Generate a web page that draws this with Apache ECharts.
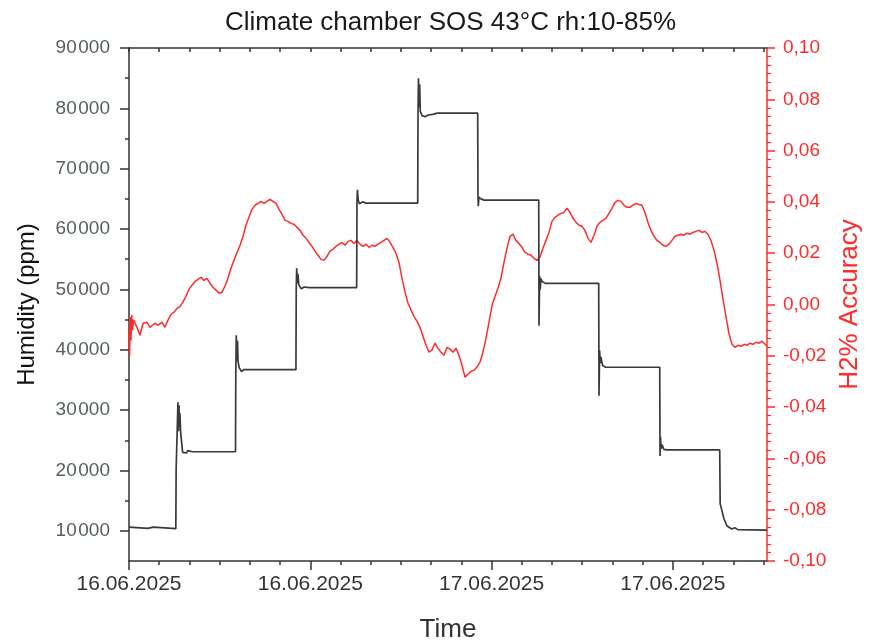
<!DOCTYPE html>
<html>
<head>
<meta charset="utf-8">
<title>Climate chamber SOS 43°C rh:10-85%</title>
<script src="https://cdn.jsdelivr.net/npm/echarts@6/dist/echarts.min.js"></script>
<style>
  html, body { margin: 0; padding: 0; background: #ffffff; }
  #chart { width: 869px; height: 642px; }
</style>
</head>
<body>
<div id="chart"></div>
<script>
// Time axis in hours since 16.06.2025 00:00
var majorHours = [0, 12, 24, 36];
var minorHours = [0, 2, 4, 6, 8, 10, 12, 14, 16, 18, 20, 22, 24, 26, 28, 30, 32, 34, 36, 38, 40, 42];
var dayLabels = ['16.06.2025', '16.06.2025', '17.06.2025', '17.06.2025'];

// Humidity axis ticks (ppm)
var majorPpm = [10000, 20000, 30000, 40000, 50000, 60000, 70000, 80000, 90000];
var minorPpm = [15000, 25000, 35000, 45000, 55000, 65000, 75000, 85000];

// Humidity (ppm) recorded in the chamber
var humidityHours = [
  0.00, 0.10, 1.25, 1.30, 1.60, 1.65, 3.10,
  3.12, 3.22, 3.24, 3.28, 3.31, 3.34, 3.37, 3.42, 3.50, 3.55, 3.65, 3.80, 3.90, 4.00, 4.20, 4.25, 4.35, 4.50, 4.55, 4.65, 5.20, 5.25, 5.35, 7.05,
  7.07, 7.10, 7.14, 7.18, 7.22, 7.30, 7.45, 7.60, 8.40, 8.45, 8.60, 11.05,
  11.07, 11.10, 11.14, 11.18, 11.24, 11.40, 11.60, 11.90, 12.40, 12.45, 12.60, 15.07,
  15.09, 15.12, 15.17, 15.25, 15.45, 15.70, 16.80, 16.85, 17.00, 19.11,
  19.13, 19.16, 19.20, 19.24, 19.28, 19.40, 19.60, 19.80, 20.10, 20.40, 21.20, 21.25, 21.40, 23.08,
  23.10, 23.12, 23.16, 23.30, 23.50, 25.00, 25.05, 25.20, 27.12,
  27.14, 27.18, 27.22, 27.26, 27.35, 27.55, 28.70, 28.75, 28.90, 31.09,
  31.11, 31.15, 31.19, 31.23, 31.35, 31.55, 32.40, 32.45, 32.60, 35.13,
  35.15, 35.18, 35.22, 35.28, 35.40, 35.60, 36.50, 36.55, 36.70, 39.10,
  39.13, 39.25, 39.38, 39.58, 39.90, 40.10, 40.30, 42.23
];
var humidityPpm = [
  10600, 10400, 10400, 10600, 10600, 10350, 10350,
  20200, 20200, 31300, 26500, 30800, 27200, 29500, 26300, 26000, 23000, 22700, 22900, 23300, 23100, 23100, 23300, 23100, 23100, 23300, 23100, 23100, 23300, 23100, 23100,
  36500, 42400, 38200, 41500, 38000, 37000, 36400, 36700, 36700, 36900, 36700, 36700,
  50200, 53500, 51000, 52600, 50800, 50100, 50400, 50300, 50300, 50600, 50300, 50300,
  64500, 66500, 64800, 64200, 64500, 64300, 64300, 64500, 64300, 64300,
  79000, 85000, 80200, 84000, 79500, 78800, 78600, 78900, 79000, 79200, 79200, 79000, 79200, 79200,
  65500, 63800, 65300, 65000, 64800, 64800, 64600, 64800, 64800,
  44000, 52200, 50000, 51800, 51300, 51000, 51000, 51200, 51000, 51000,
  32400, 39900, 37800, 38800, 37400, 37100, 37100, 37300, 37100, 37100,
  22400, 25600, 23600, 24300, 23500, 23400, 23400, 23600, 23400, 23400,
  14500, 13300, 12000, 10800, 10300, 10500, 10200, 10100
];

// H2% accuracy
var accuracyHours = [
  0.00, 0.04, 0.08, 0.13, 0.18, 0.24, 0.30, 0.40, 0.53, 0.73, 0.93, 1.19, 1.39, 1.52, 1.72, 1.92, 2.18, 2.38, 2.58, 2.78,
  2.98, 3.18, 3.38, 3.57, 3.77, 3.97, 4.17, 4.37, 4.57, 4.77, 4.96, 5.16, 5.36, 5.56, 5.76, 5.96, 6.16, 6.35, 6.55, 6.75,
  6.95, 7.15, 7.35, 7.55, 7.74, 7.94, 8.14, 8.34, 8.54, 8.74, 8.94, 9.13, 9.33, 9.53, 9.73, 9.93, 10.13, 10.33, 10.52, 10.72,
  10.92, 11.12, 11.32, 11.52, 11.72, 11.91, 12.11, 12.31, 12.51, 12.71, 12.91, 13.11, 13.30, 13.50, 13.70, 13.90, 14.10, 14.30, 14.50, 14.69,
  14.89, 15.09, 15.29, 15.49, 15.69, 15.89, 16.08, 16.28, 16.48, 16.68, 16.88, 17.08, 17.28, 17.47, 17.67, 17.87, 18.07, 18.27, 18.47, 18.67,
  18.86, 19.06, 19.26, 19.46, 19.66, 19.86, 20.05, 20.25, 20.45, 20.65, 20.85, 21.05, 21.25, 21.44, 21.64, 21.84, 22.04, 22.24, 22.44, 22.64,
  22.84, 23.03, 23.23, 23.43, 23.63, 23.83, 24.03, 24.23, 24.42, 24.62, 24.82, 25.02, 25.22, 25.42, 25.61, 25.81, 26.01, 26.21, 26.41, 26.61,
  26.81, 27.00, 27.20, 27.40, 27.60, 27.80, 28.00, 28.20, 28.40, 28.59, 28.79, 28.99, 29.19, 29.39, 29.59, 29.79, 29.98, 30.18, 30.38, 30.58,
  30.78, 30.98, 31.17, 31.37, 31.57, 31.77, 31.97, 32.17, 32.36, 32.56, 32.76, 32.96, 33.16, 33.36, 33.56, 33.75, 33.95, 34.15, 34.35, 34.55,
  34.75, 34.95, 35.14, 35.34, 35.54, 35.74, 35.94, 36.14, 36.34, 36.53, 36.73, 36.93, 37.13, 37.33, 37.53, 37.73, 37.92, 38.12, 38.32, 38.52,
  38.72, 38.92, 39.12, 39.31, 39.51, 39.71, 39.91, 40.11, 40.31, 40.51, 40.71, 40.91, 41.10, 41.30, 41.50, 41.70, 41.90, 42.10, 42.23
];
var accuracyValue = [
  -0.0100, -0.0200, -0.0050, -0.0140, -0.0040, -0.0100, -0.0060, -0.0061, -0.0089, -0.0120, -0.0073, -0.0069, -0.0089, -0.0085, -0.0073, -0.0081, -0.0069, -0.0089, -0.0061, -0.0038,
  -0.0030, -0.0015, -0.0007, 0.0009, 0.0032, 0.0059, 0.0075, 0.0090, 0.0098, 0.0106, 0.0094, 0.0102, 0.0083, 0.0067, 0.0056, 0.0044, 0.0048, 0.0071, 0.0102, 0.0141,
  0.0172, 0.0203, 0.0231, 0.0266, 0.0309, 0.0340, 0.0371, 0.0387, 0.0394, 0.0402, 0.0394, 0.0402, 0.0410, 0.0402, 0.0394, 0.0371, 0.0351, 0.0328, 0.0324, 0.0316,
  0.0313, 0.0301, 0.0289, 0.0270, 0.0258, 0.0242, 0.0227, 0.0208, 0.0192, 0.0176, 0.0172, 0.0188, 0.0208, 0.0215, 0.0227, 0.0235, 0.0242, 0.0231, 0.0246, 0.0250,
  0.0238, 0.0250, 0.0235, 0.0227, 0.0235, 0.0223, 0.0231, 0.0227, 0.0235, 0.0242, 0.0250, 0.0258, 0.0242, 0.0223, 0.0200, 0.0164, 0.0102, 0.0048, 0.0005, -0.0022,
  -0.0046, -0.0065, -0.0089, -0.0124, -0.0159, -0.0186, -0.0178, -0.0151, -0.0170, -0.0186, -0.0198, -0.0167, -0.0174, -0.0186, -0.0170, -0.0198, -0.0237, -0.0283, -0.0272, -0.0260,
  -0.0256, -0.0244, -0.0225, -0.0186, -0.0132, -0.0069, -0.0003, 0.0032, 0.0063, 0.0102, 0.0164, 0.0219, 0.0266, 0.0274, 0.0250, 0.0238, 0.0223, 0.0203, 0.0196, 0.0192,
  0.0180, 0.0172, 0.0184, 0.0219, 0.0250, 0.0281, 0.0324, 0.0340, 0.0348, 0.0355, 0.0359, 0.0375, 0.0359, 0.0336, 0.0320, 0.0309, 0.0305, 0.0289, 0.0258, 0.0242,
  0.0270, 0.0305, 0.0320, 0.0328, 0.0336, 0.0355, 0.0375, 0.0398, 0.0406, 0.0402, 0.0387, 0.0379, 0.0379, 0.0387, 0.0394, 0.0390, 0.0387, 0.0359, 0.0320, 0.0289,
  0.0266, 0.0250, 0.0242, 0.0231, 0.0227, 0.0235, 0.0250, 0.0266, 0.0270, 0.0274, 0.0270, 0.0278, 0.0274, 0.0281, 0.0285, 0.0289, 0.0281, 0.0285, 0.0274, 0.0250,
  0.0211, 0.0161, 0.0094, 0.0024, -0.0046, -0.0112, -0.0155, -0.0167, -0.0159, -0.0163, -0.0155, -0.0159, -0.0151, -0.0155, -0.0147, -0.0151, -0.0143, -0.0155, -0.0163
];

function zip(xs, ys) {
  var out = [];
  for (var i = 0; i < xs.length; i++) out.push([xs[i], ys[i]]);
  return out;
}

var FONT = "'Liberation Sans', Arial, sans-serif";
var INK = '#333333';
var RED = '#ff2b2b';
var HOURS_END = 42.23;

function ppmLabel(v) {
  return String(Math.round(v)).replace(/(\d)(?=(\d{3})+$)/, '$1\u200A');
}
function accLabel(v) {
  if (Math.abs(v) < 1e-9) v = 0;
  return v.toFixed(2).replace('.', ',');
}
function dayLabel(v) {
  var i = majorHours.indexOf(Math.round(v));
  return i >= 0 ? dayLabels[i] : '';
}

var chart = echarts.init(document.getElementById('chart'), null, { renderer: 'canvas' });

chart.setOption({
  animation: false,
  backgroundColor: '#ffffff',
  title: {
    text: 'Climate chamber SOS 43°C rh:10-85%',
    left: 220,
    top: 5,
    textStyle: { fontFamily: FONT, fontSize: 26, fontWeight: 'normal', color: '#1a1a1a' }
  },
  grid: { left: 129, right: 102, top: 48, bottom: 81, containLabel: false, outerBoundsMode: 'none' },
  xAxis: [
    {
      type: 'value', min: 0, max: HOURS_END, position: 'bottom',
      name: 'Time', nameLocation: 'middle', nameGap: 56,
      nameTextStyle: { fontFamily: FONT, fontSize: 26, color: INK },
      axisLine: { onZero: false, lineStyle: { color: INK, width: 1.5 } },
      axisTick: { customValues: majorHours, length: 9, lineStyle: { color: INK, width: 1.5 } },
      axisLabel: { customValues: majorHours, formatter: dayLabel, fontFamily: FONT, fontSize: 21, color: INK, margin: 13 },
      splitLine: { show: false }
    },
    {
      type: 'value', min: 0, max: HOURS_END, position: 'bottom',
      axisLine: { show: false, onZero: false },
      axisTick: { customValues: minorHours, length: 4, lineStyle: { color: INK, width: 1.5 } },
      axisLabel: { show: false },
      splitLine: { show: false }
    },
    {
      type: 'value', min: 0, max: HOURS_END, position: 'top',
      axisLine: { onZero: false, lineStyle: { color: INK, width: 1.5 } },
      axisTick: { customValues: minorHours, inside: true, length: 4, lineStyle: { color: INK, width: 1.5 } },
      axisLabel: { show: false },
      splitLine: { show: false }
    }
  ],
  yAxis: [
    {
      type: 'value', min: 5000, max: 90000, position: 'left',
      name: 'Humidity (ppm)', nameLocation: 'middle', nameGap: 90, nameRotate: 90,
      nameTextStyle: { fontFamily: FONT, fontSize: 24, color: '#111111' },
      axisLine: { onZero: false, lineStyle: { color: INK, width: 1.5 } },
      axisTick: { customValues: majorPpm, length: 9, lineStyle: { color: INK, width: 1.5 } },
      axisLabel: { customValues: majorPpm, formatter: ppmLabel, fontFamily: FONT, fontSize: 19, color: '#55605f', margin: 19 },
      splitLine: { show: false }
    },
    {
      type: 'value', min: -0.1, max: 0.1, interval: 0.02, position: 'right',
      name: 'H2% Accuracy', nameLocation: 'middle', nameGap: 70, nameRotate: 90,
      nameTextStyle: { fontFamily: FONT, fontSize: 26, color: RED },
      axisLine: { onZero: false, lineStyle: { color: RED, width: 1.5 } },
      axisTick: { length: 8, lineStyle: { color: RED, width: 1.5 } },
      minorTick: { show: true, splitNumber: 6, length: 4, lineStyle: { color: RED, width: 1.2 } },
      axisLabel: { formatter: accLabel, fontFamily: FONT, fontSize: 19, color: RED, margin: 16 },
      splitLine: { show: false },
      minorSplitLine: { show: false }
    },
    {
      type: 'value', min: 5000, max: 90000, position: 'left',
      axisLine: { show: false, onZero: false },
      axisTick: { customValues: minorPpm, length: 4, lineStyle: { color: INK, width: 1.5 } },
      axisLabel: { show: false },
      splitLine: { show: false }
    }
  ],
  series: [
    {
      name: 'Humidity', type: 'line', xAxisIndex: 0, yAxisIndex: 0,
      data: zip(humidityHours, humidityPpm),
      showSymbol: false, symbol: 'none',
      lineStyle: { color: '#3a3a3a', width: 1.7 },
      z: 3
    },
    {
      name: 'H2% Accuracy', type: 'line', xAxisIndex: 0, yAxisIndex: 1,
      data: zip(accuracyHours, accuracyValue),
      showSymbol: false, symbol: 'none',
      lineStyle: { color: RED, width: 1.5 },
      z: 2
    }
  ]
});
</script>
</body>
</html>
